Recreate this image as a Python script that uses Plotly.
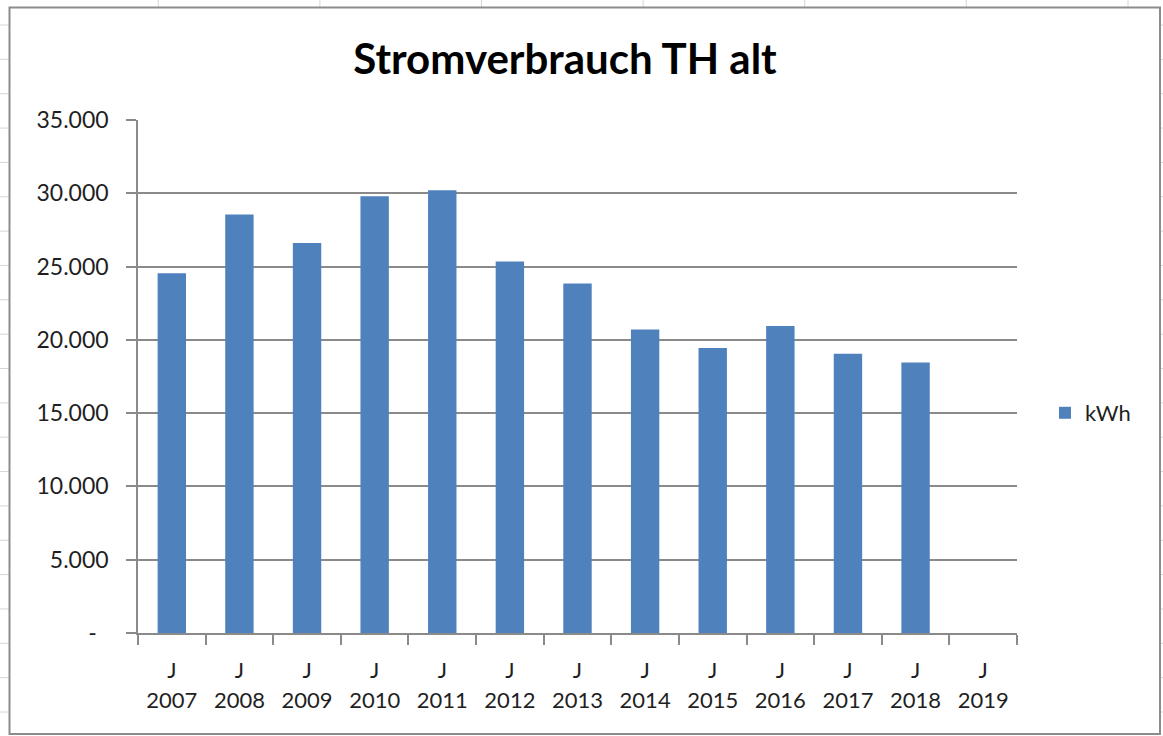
import plotly.graph_objects as go

# ---- data ----
years = ["2007", "2008", "2009", "2010", "2011", "2012", "2013",
         "2014", "2015", "2016", "2017", "2018", "2019"]
month_label = ["J"] * 13
kwh = [24550, 28550, 26600, 29800, 30200, 25350, 23850,
       20700, 19450, 20950, 19050, 18450, None]
series_name = "kWh"
y_tickvals = [0, 5000, 10000, 15000, 20000, 25000, 30000, 35000]
y_ticktext = ["-\u00a0\u00a0", "5.000", "10.000", "15.000", "20.000",
              "25.000", "30.000", "35.000"]
title_text = "Stromverbrauch TH alt"

# ---- layout geometry (pixels) ----
W, H = 1163, 736
L, R, T, B = 138, 1017, 120, 633
PW, PH = R - L, B - T


def px(x):
    return (x - L) / PW


def py(y):
    return (B - y) / PH


FONT = "Lato"
TXT = "#1f1f1f"
GRID = "#8a8a8a"

ticktext = [f"<span style='font-size:22px'>{m}</span><br>"
            f"<span style='font-size:22px'>{y}</span>"
            for m, y in zip(month_label, years)]

fig = go.Figure()
fig.add_trace(go.Bar(
    x=years, y=kwh, name=series_name,
    marker=dict(color="#4f81bd", line=dict(width=0)),
    width=0.42, showlegend=True,
))

shapes = []
# faint spreadsheet grid outside the chart frame
for gx in [158.3, 319.9, 481.5, 643.1, 804.7, 966.3, 1128]:
    shapes.append(dict(type="line", xref="paper", yref="paper",
                       x0=px(gx), x1=px(gx), y0=py(0), y1=py(7),
                       line=dict(color="#d6d6d6", width=1), layer="below"))
for k in range(21):
    gy = 25 + 34.35 * k
    shapes.append(dict(type="line", xref="paper", yref="paper",
                       x0=px(0), x1=px(9), y0=py(gy), y1=py(gy),
                       line=dict(color="#d6d6d6", width=1), layer="below"))
    shapes.append(dict(type="line", xref="paper", yref="paper",
                       x0=px(1161), x1=px(1163), y0=py(gy), y1=py(gy),
                       line=dict(color="#d6d6d6", width=1), layer="below"))
# chart frame
shapes.append(dict(type="rect", xref="paper", yref="paper",
                   x0=px(9.5), x1=px(1160), y0=py(7.5), y1=py(734),
                   line=dict(color="#8c8c8c", width=2), fillcolor="rgba(0,0,0,0)",
                   layer="below"))

fig.update_layout(
    width=W, height=H,
    margin=dict(l=L, r=W - R, t=T, b=H - B, pad=0),
    paper_bgcolor="white", plot_bgcolor="white",
    font=dict(family=FONT, color=TXT, size=22),
    title=dict(text=title_text, x=565 / W, xanchor="center",
               y=1 - 59 / H, yanchor="middle", xref="container", yref="container",
               font=dict(family=FONT, size=42, weight=700, color="#000000")),
    xaxis=dict(
        type="category", range=[-0.5, 12.5],
        tickmode="array", tickvals=years, ticktext=ticktext,
        tickson="boundaries", ticks="outside", ticklen=10, tickwidth=1.5,
        tickcolor=GRID, showline=True, linecolor=GRID, linewidth=1.5,
        showgrid=False, tickfont=dict(family=FONT, size=23, color=TXT),
        ticklabelstandoff=16,
    ),
    yaxis=dict(
        range=[0, 35000], tickmode="array", tickvals=y_tickvals, ticktext=y_ticktext,
        ticks="outside", ticklen=10, tickwidth=1.5, tickcolor=GRID,
        showline=True, linecolor=GRID, linewidth=1.5,
        showgrid=True, gridcolor=GRID, gridwidth=1.5, zeroline=False,
        tickfont=dict(family=FONT, size=23, color=TXT),
        ticklabelstandoff=13,
    ),
    legend=dict(x=px(1045), xanchor="left", y=py(413), yanchor="middle",
                bgcolor="rgba(0,0,0,0)", font=dict(family=FONT, size=22, color=TXT)),
    shapes=shapes,
    bargap=0.58,
)

fig.write_html("out.html",
               config={"displayModeBar": False},
               post_script="document.body.style.margin='0px';document.body.style.overflow='hidden';")
